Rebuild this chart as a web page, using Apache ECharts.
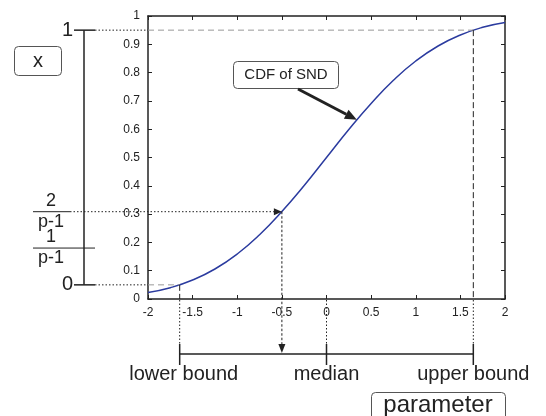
<!DOCTYPE html>
<html>
<head>
<meta charset="utf-8">
<script src="https://cdn.jsdelivr.net/npm/echarts@6/dist/echarts.min.js"></script>
<style>
html,body{margin:0;padding:0;background:#fff;}
#main{width:546px;height:416px;}
</style>
</head>
<body>
<div id="main"></div>
<script>
// values
var xVals = [-2, -1.75, -1.5, -1.25, -1, -0.75, -0.5, -0.25, 0, 0.25, 0.5, 0.75, 1, 1.25, 1.5, 1.75, 2];
var cdfVals = [0.023, 0.040, 0.067, 0.106, 0.159, 0.227, 0.309, 0.401, 0.5, 0.599, 0.691, 0.773, 0.841, 0.894, 0.933, 0.960, 0.977];
var boundX = [-1.645, 0, 1.645];
var boundNames = ['lower bound', 'median', 'upper bound'];
var tailProb = [0.05, 0.95];
var tailNames = ['0', '1'];
var pickX = -0.5;
var pickY = 0.3085;
var fracY = [0.3085, 0.18];
var fracNum = ['2', '1'];
var calloutAt = [0.34, 0.633];

var FONT = 'Liberation Sans';
var INK = '#222';

var chart = echarts.init(document.getElementById('main'));

var seriesData = [];
for (var i = 0; i < xVals.length; i++) {
	seriesData.push([xVals[i], cdfVals[i]]);
}

function numLabel(v) {
	return String(Math.round(v * 10) / 10);
}

var boxAxisX = {
	type: 'value', min: -2, max: 2, interval: 0.5,
	axisLine: {show: true, onZero: false, lineStyle: {color: INK, width: 1.5}},
	axisTick: {show: true, inside: true, length: 4, lineStyle: {color: INK}},
	splitLine: {show: false}
};
var boxAxisY = {
	type: 'value', min: 0, max: 1, interval: 0.1,
	axisLine: {show: true, onZero: false, lineStyle: {color: INK, width: 1.5}},
	axisTick: {show: true, inside: true, length: 4, lineStyle: {color: INK}},
	splitLine: {show: false}
};

var option = {
	animation: false,
	backgroundColor: '#fff',
	grid: {left: 148, right: 41, top: 16, bottom: 117, containLabel: false, outerBoundsMode: 'none'},
	xAxis: [
		echarts.util.merge({position: 'bottom',
			axisLabel: {color: INK, fontSize: 12, fontFamily: FONT, margin: 8, formatter: numLabel}}, boxAxisX),
		echarts.util.merge({position: 'top', axisLabel: {show: false}}, boxAxisX)
	],
	yAxis: [
		echarts.util.merge({position: 'left',
			axisLabel: {color: INK, fontSize: 12, fontFamily: FONT, margin: 8, formatter: numLabel}}, boxAxisY),
		echarts.util.merge({position: 'right', axisLabel: {show: false}}, boxAxisY)
	],
	series: [{
		type: 'line',
		xAxisIndex: 0,
		yAxisIndex: 0,
		data: seriesData,
		smooth: true,
		showSymbol: false,
		lineStyle: {color: '#2b3b9f', width: 1.5}
	}]
};
chart.setOption(option);

function px(x, y) {
	return chart.convertToPixel({gridIndex: 0}, [x, y]);
}
function seg(x1, y1, x2, y2, color, width, dash) {
	return {type: 'line', shape: {x1: x1, y1: y1, x2: x2, y2: y2},
		style: {stroke: color, lineWidth: width, lineDash: dash || null}, z: 10};
}
function txt(x, y, s, size, align, valign) {
	return {type: 'text', x: x, y: y, z: 11,
		style: {text: s, fill: INK, font: size + 'px "' + FONT + '"', align: align || 'center', verticalAlign: valign || 'middle'}};
}
function tri(p1, p2, p3) {
	return {type: 'polygon', shape: {points: [p1, p2, p3]}, style: {fill: INK}, z: 12};
}
function box(x, y, w, h) {
	return {type: 'rect', shape: {x: x, y: y, width: w, height: h, r: 4},
		style: {fill: '#fff', stroke: '#555', lineWidth: 1}, z: 10};
}

var g = [];
var left = px(-2, 0)[0];
var bottom = px(-2, 0)[1];
var barX = 84;
var DOT = [1.5, 2];

// tail levels: gray dashed inside, dark dashed down to the axis, dotted out to the left bracket
for (var k = 0; k < tailProb.length; k++) {
	var p = px(boundX[k === 0 ? 0 : 2], tailProb[k]);
	g.push(seg(left, p[1], p[0], p[1], '#999', 1, [6, 4]));
	g.push(seg(p[0], p[1], p[0], bottom, INK, 1, [6, 3]));
	g.push(seg(95, p[1], left, p[1], INK, 1, DOT));
	g.push(seg(74, p[1], 95, p[1], INK, 1.5));
	g.push(txt(73, p[1], tailNames[k], 20, 'right', 'middle'));
}
var topY = px(0, tailProb[1])[1];
var botY = px(0, tailProb[0])[1];
g.push(seg(barX, topY, barX, botY, INK, 1.5));

// fractions on the left
for (var f = 0; f < fracY.length; f++) {
	var fy = px(0, fracY[f])[1];
	g.push(seg(33, fy, f === 0 ? 70 : 95, fy, INK, 1));
	g.push(txt(51, fy - 2, fracNum[f], 18, 'center', 'bottom'));
	g.push(txt(51, fy + 1, 'p-1', 18, 'center', 'top'));
}

// picked probability -> parameter
var pk = px(pickX, pickY);
g.push(seg(70, pk[1], pk[0] - 8, pk[1], INK, 1, DOT));
g.push(tri([pk[0], pk[1]], [pk[0] - 8, pk[1] - 3.5], [pk[0] - 8, pk[1] + 3.5]));

var bracketY = bottom + 55;
g.push(seg(pk[0], pk[1], pk[0], bracketY - 9, INK, 1, [2.5, 2]));
g.push(tri([pk[0], bracketY - 1], [pk[0] - 3.5, bracketY - 10], [pk[0] + 3.5, bracketY - 10]));

// bracket under the axis
var bx = [];
for (var b = 0; b < boundX.length; b++) {
	bx.push(px(boundX[b], 0)[0]);
	g.push(seg(bx[b], bottom + 1, bx[b], bracketY - 10, INK, 1, DOT));
	g.push(seg(bx[b], bracketY - 10, bx[b], bracketY + 11, INK, 1.5));
	g.push(txt(bx[b] + (b === 0 ? 4 : 0), bracketY + 20, boundNames[b], 20, 'center', 'middle'));
}
g.push(seg(bx[0], bracketY, bx[2], bracketY, INK, 1.5));

// labelled boxes
g.push(box(14.5, 46.5, 47, 29));
g.push(txt(38, 61, 'x', 20));
g.push(box(371.5, 392.5, 134, 40));
g.push(txt(438, 405, 'parameter', 24));

// callout
g.push(box(233.5, 61.5, 105, 27));
g.push(txt(286, 75, 'CDF of SND', 15));
var ct = px(calloutAt[0], calloutAt[1]);
var sx = 298, sy = 89;
var dx = ct[0] - sx, dy = ct[1] - sy, len = Math.sqrt(dx * dx + dy * dy);
var ux = dx / len, uy = dy / len;
var hx = ct[0] - ux * 12, hy = ct[1] - uy * 12;
g.push(seg(sx, sy, hx, hy, INK, 3));
g.push(tri([ct[0], ct[1]], [hx - uy * 5, hy + ux * 5], [hx + uy * 5, hy - ux * 5]));

chart.setOption({graphic: g});
</script>
</body>
</html>
